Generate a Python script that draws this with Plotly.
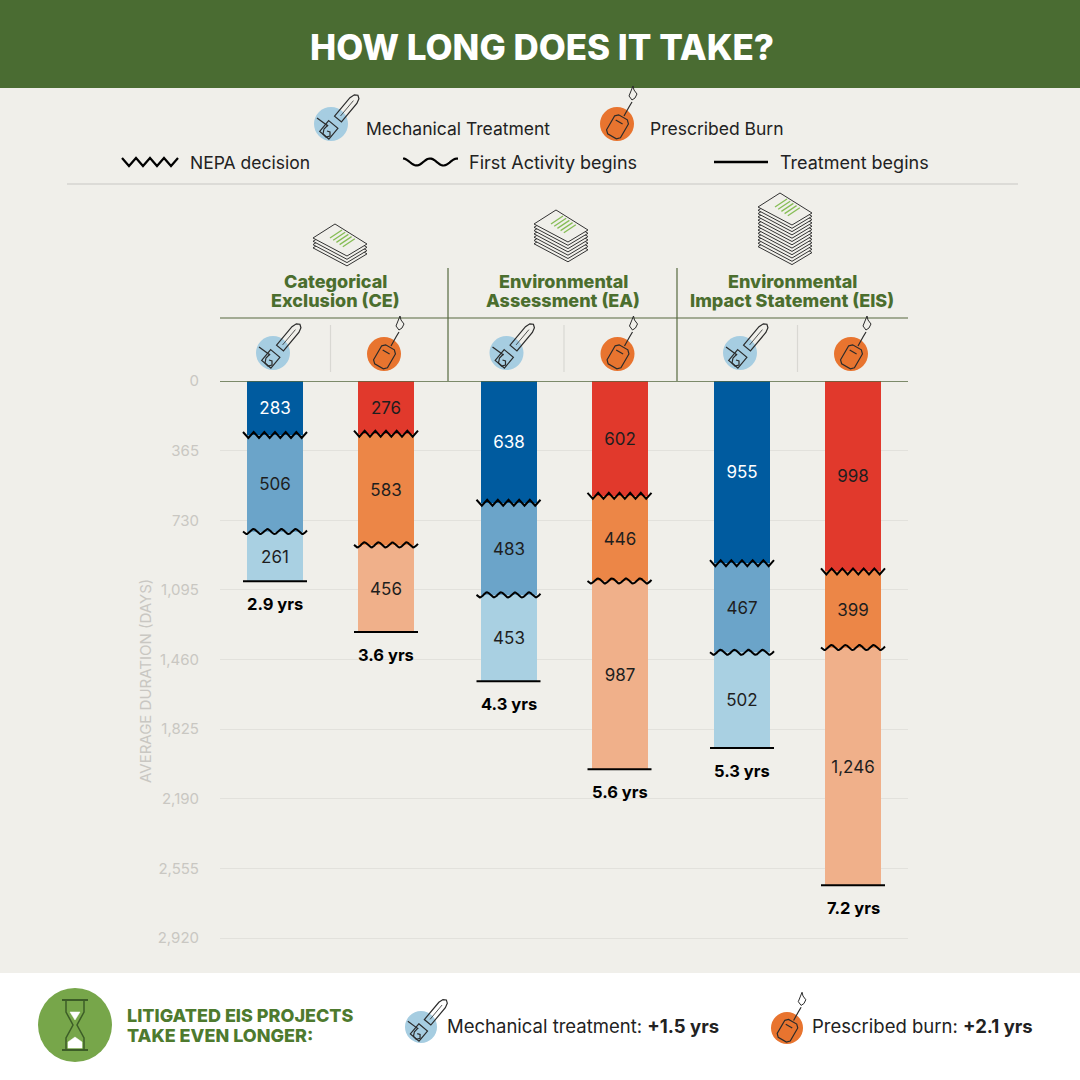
import numpy as np
import plotly.graph_objects as go

# --- data (days) ---
groups = ["Categorical Exclusion (CE)", "Environmental Assessment (EA)",
          "Environmental Impact Statement (EIS)"]
group_lines = [["Categorical", "Exclusion (CE)"],
               ["Environmental", "Assessment (EA)"],
               ["Environmental", "Impact Statement (EIS)"]]
treatments = ["Mechanical Treatment", "Prescribed Burn"]
# order: CE mech, CE burn, EA mech, EA burn, EIS mech, EIS burn
nepa_days = [283, 276, 638, 602, 955, 998]
first_activity_days = [506, 583, 483, 446, 467, 399]
treatment_days = [261, 456, 453, 987, 502, 1246]
total_labels = ["2.9 yrs", "3.6 yrs", "4.3 yrs", "5.6 yrs", "5.3 yrs", "7.2 yrs"]
tick_vals = [0, 365, 730, 1095, 1460, 1825, 2190, 2555, 2920]
stack_sheets = [4, 7, 13]
litigated = ["+1.5 yrs", "+2.1 yrs"]

MECH = ["#005b9f", "#6ba4c9", "#a9d0e2"]
BURN = ["#e1392c", "#ec8647", "#f0b08a"]
ICON_BLUE = "#a6cde1"
ICON_ORANGE = "#e8742f"
BG = "#f0efea"
GREEN = "#4a6c32"
TITLE_GREEN = "#4b6e2e"
OLIVE = "#56693f"
DARK = "#1e1e1e"
FONT = "Inter"

W, H = 1080, 1080
L, R, T, B = 220, 908, 381, 941   # plot area in pixels
YMAX = 2935
PXD = (B - T) / YMAX              # pixels per day


def px(x):
    return (x - L) / (R - L)


def py(y):
    return (B - y) / (B - T)


def path(pts, close=False):
    s = "M " + " L ".join(f"{px(x):.5f},{py(y):.5f}" for x, y in pts)
    return s + (" Z" if close else "")


def xform(pts, cx, cy, s=1.0, ang=0.0):
    a = np.radians(ang)
    out = []
    for x, y in pts:
        xr = x * np.cos(a) - y * np.sin(a)
        yr = x * np.sin(a) + y * np.cos(a)
        out.append((cx + s * xr, cy + s * yr))
    return out


def circle(cx, cy, r, color):
    return dict(type="circle", xref="paper", yref="paper", x0=px(cx - r), x1=px(cx + r),
                y0=py(cy + r), y1=py(cy - r), fillcolor=color, line_width=0, layer="above")


def line_shape(pts, color="#2b2b2b", width=1.2, fill=None, close=False):
    d = dict(type="path", xref="paper", yref="paper", path=path(pts, close),
             line=dict(color=color, width=width), layer="above")
    if fill:
        d["fillcolor"] = fill
    return d


def chainsaw(cx, cy, r):
    s = r / 17.0
    shp = [circle(cx, cy, r, ICON_BLUE)]
    blade = [(-4.5, 0), (-4.5, -24), (-3, -29), (0, -31), (3, -29), (4.5, -24), (4.5, 0)]
    shp.append(line_shape(xform(blade, cx + 7 * s, cy - 5 * s, s, 40), close=True))
    shp.append(line_shape(xform([(0, -4), (0, -24)], cx + 7 * s, cy - 5 * s, s, 40), width=0.8))
    body = [(-6, -2), (6, -2), (6, 12), (-6, 12)]
    shp.append(line_shape(xform(body, cx + 1 * s, cy + 2 * s, s, 40), close=True, fill=ICON_BLUE))
    hook = [(-3, 1), (-7, 5), (-8, 10), (-5, 13), (-1, 12), (-1, 8), (-4, 7)]
    shp.append(line_shape(xform(hook, cx, cy, s, 0)))
    shp.append(line_shape(xform([(-14, -6), (-3, 2)], cx, cy, s, 0)))
    return shp


def drip_torch(cx, cy, r):
    s = r / 17.0
    shp = [circle(cx, cy, r, ICON_ORANGE)]
    can = [(-8, -7), (-5, -10), (5, -10), (8, -7), (8, 9), (5, 12), (-5, 12), (-8, 9)]
    shp.append(line_shape(xform(can, cx + 1 * s, cy + 2 * s, s, 30), close=True))
    shp.append(line_shape(xform([(-5, -4), (3, -4)], cx + 1 * s, cy + 2 * s, s, 30)))
    nozzle = [(7, -8), (12, -17), (15, -22)]
    shp.append(line_shape(xform(nozzle, cx, cy, s, 0)))
    flame = [(15, -24), (12, -28), (14, -33), (16, -38), (17, -34), (20, -30), (18, -26), (15, -24)]
    shp.append(line_shape(xform(flame, cx, cy, s, 0), width=1.0))
    return shp


def paper_stack(cx, top_y, n):
    shp = []
    sheet = [(-5, 0), (27, 20), (7, 32), (-27, 14)]
    for k in range(n - 1, -1, -1):
        pts = [(cx + x, top_y + y + k * 3.3) for x, y in sheet]
        shp.append(line_shape(pts, color="#333333", width=1.0, fill=BG, close=True))
    for j in range(5):
        ox = -10 + j * 3.2
        oy = 8 + j * 2.2
        seg = [(cx + ox, top_y + oy + 6), (cx + ox + 12, top_y + oy - 2)]
        shp.append(line_shape(seg, color="#86bd55", width=1.3))
    return shp


bar_x = [275 + g * 233.5 + m * 111 for g in range(3) for m in range(2)]
is_mech = [m == 0 for g in range(3) for m in range(2)]
segments = [nepa_days, first_activity_days, treatment_days]

fig = go.Figure()

for level, vals in enumerate(segments):
    colors = [MECH[level] if mech else BURN[level] for mech in is_mech]
    txt_colors = ["white" if (mech and level == 0) else DARK for mech in is_mech]
    fig.add_trace(go.Bar(
        x=bar_x, y=vals, width=56,
        marker=dict(color=colors, line=dict(width=0)),
        text=[f"{v:,}" for v in vals], textposition="inside", insidetextanchor="middle",
        textangle=0, constraintext="none",
        textfont=dict(color=txt_colors, size=17, family=FONT),
        hoverinfo="skip", showlegend=False,
    ))

annotations = []

# boundary markers: zigzag = NEPA decision, wave = first activity, line = treatment begins
ends = np.cumsum(np.array(segments), axis=0)
for i, xc in enumerate(bar_x):
    y1, y2, y3 = ends[:, i]
    zx = np.linspace(xc - 32, xc + 32, 13)
    zy = [y1 + (3 if k % 2 else -3) / PXD for k in range(13)]
    fig.add_trace(go.Scatter(x=zx, y=zy, mode="lines", line=dict(color="black", width=2),
                             hoverinfo="skip", showlegend=False))
    wx = np.linspace(xc - 32, xc + 32, 80)
    wy = y2 + 2.5 / PXD * np.sin(2 * np.pi * (wx - xc + 32) / 14)
    fig.add_trace(go.Scatter(x=wx, y=wy, mode="lines", line=dict(color="black", width=2),
                             hoverinfo="skip", showlegend=False))
    fig.add_trace(go.Scatter(x=[xc - 32, xc + 32], y=[y3, y3], mode="lines",
                             line=dict(color="black", width=2),
                             hoverinfo="skip", showlegend=False))
    annotations.append(dict(x=xc, y=y3, xref="x", yref="y", yshift=-23,
                            text=f"<b>{total_labels[i]}</b>", showarrow=False,
                            font=dict(size=16.5, color="black", family=FONT)))

shapes = []
# header and footer bands
shapes.append(dict(type="rect", xref="paper", yref="paper", x0=px(0), x1=px(W), y0=py(88), y1=py(0),
                   fillcolor=GREEN, line_width=0, layer="below"))
shapes.append(dict(type="rect", xref="paper", yref="paper", x0=px(0), x1=px(W), y0=py(H), y1=py(973),
                   fillcolor="white", line_width=0, layer="below"))
# legend separator
shapes.append(line_shape([(67, 184), (1018, 184)], color="#d6d5d0", width=1.5))
# group header frame
shapes.append(line_shape([(220, 318), (908, 318)], color=OLIVE, width=1.2))
for xv in [448, 677]:
    shapes.append(line_shape([(xv, 268), (xv, 381)], color=OLIVE, width=1.2))
for g in range(3):
    xm = (bar_x[2 * g] + bar_x[2 * g + 1]) / 2
    shapes.append(line_shape([(xm, 325), (xm, 372)], color="#d9d8d3", width=1.2))
# zero line
shapes.append(dict(type="line", xref="paper", yref="y", x0=0, x1=1, y0=0, y1=0,
                   line=dict(color=OLIVE, width=1.5), layer="above"))

# legend: treatments
shapes += chainsaw(331, 124, 17)
shapes += drip_torch(617, 124, 17)
# legend: boundary types
zz = [(122 + k * 7, 158 if k % 2 == 0 else 166) for k in range(9)]
shapes.append(line_shape(zz, color="black", width=2.2))
wv = [(403 + t, 162 + 3.5 * np.sin(2 * np.pi * t / 27 - np.pi / 2)) for t in np.linspace(0, 55, 40)]
shapes.append(line_shape(wv, color="black", width=2.2))
shapes.append(line_shape([(714, 162), (768, 162)], color="black", width=2.5))

# paper stacks above group titles
stack_pos = [(340, 224), (561, 210), (785, 193)]
for (sx, sy), n in zip(stack_pos, stack_sheets):
    shapes += paper_stack(sx, sy, n)

# icon row
for i, xc in enumerate(bar_x):
    if is_mech[i]:
        shapes += chainsaw(xc - 2, 353, 17)
    else:
        shapes += drip_torch(xc - 2, 354, 17)

# footer icons
shapes.append(circle(75, 1025, 37, "#77a64a"))
hg = "#3c5d27"
shapes.append(line_shape([(62, 1000), (88, 1000)], color=hg, width=2))
shapes.append(line_shape([(62, 1050), (88, 1050)], color=hg, width=2))
shapes.append(line_shape([(66, 1001), (66, 1012), (73, 1025), (66, 1038), (66, 1049)], color=hg, width=1.5))
shapes.append(line_shape([(84, 1001), (84, 1012), (77, 1025), (84, 1038), (84, 1049)], color=hg, width=1.5))
shapes.append(line_shape([(68, 1048), (68, 1042), (75, 1037), (82, 1042), (82, 1048)],
                         color="white", width=0.5, fill="white", close=True))
shapes.append(line_shape([(70, 1012), (80, 1012), (75, 1020)], color="white", width=0.5,
                         fill="white", close=True))
shapes += chainsaw(421, 1027, 16)
shapes += drip_torch(787, 1028, 16)


def text(x, y, s, size=17, color="#222222", anchor="left", weight=None):
    f = dict(size=size, color=color, family=FONT)
    if weight:
        f["weight"] = weight
    annotations.append(dict(x=px(x), y=py(y), xref="paper", yref="paper", text=s,
                            showarrow=False, xanchor=anchor, yanchor="middle", font=f))


text(542, 47, "HOW LONG DOES IT TAKE?", size=35, color="white", anchor="center", weight=800)
text(364, 128, treatments[0], size=17.5)
text(648, 128, treatments[1], size=17.5)
text(188, 162, "NEPA decision", size=17.5)
text(467, 162, "First Activity begins", size=18)
text(778, 162, "Treatment begins", size=18)
for g, lines in enumerate(group_lines):
    xm = [335, 563, 792][g]
    text(xm, 281, lines[0], size=18, color=TITLE_GREEN, anchor="center", weight=800)
    text(xm, 300, lines[1], size=18, color=TITLE_GREEN, anchor="center", weight=800)
annotations.append(dict(x=px(145), y=py(681), xref="paper", yref="paper", text="AVERAGE DURATION (DAYS)",
                        textangle=-90, showarrow=False, xanchor="center", yanchor="middle",
                        font=dict(size=15, color="#c9c7c2", family=FONT)))
text(125, 1015, "LITIGATED EIS PROJECTS", size=18, color="#4e7a2e", weight=800)
text(125, 1035, "TAKE EVEN LONGER:", size=18, color="#4e7a2e", weight=800)
text(445, 1026, f"Mechanical treatment: <b>{litigated[0]}</b>", size=18.5)
text(810, 1026, f"Prescribed burn: <b>{litigated[1]}</b>", size=18.5)

fig.update_layout(
    width=W, height=H,
    margin=dict(l=L, r=W - R, t=T, b=H - B, pad=0),
    paper_bgcolor=BG, plot_bgcolor=BG,
    barmode="stack", bargap=0,
    font=dict(family=FONT),
    shapes=shapes, annotations=annotations,
    xaxis=dict(range=[L, R], visible=False, fixedrange=True),
    yaxis=dict(range=[YMAX, 0], tickvals=tick_vals, tickformat=",", showgrid=True,
               gridcolor="#e2e1dc", gridwidth=1, zeroline=False, showline=False,
               ticklabelstandoff=20, tickfont=dict(size=15, color="#c9c7c2", family=FONT),
               fixedrange=True),
    showlegend=False,
)

fig.write_html("out.html", config={"displayModeBar": False},
               post_script="document.body.style.margin='0px';")
